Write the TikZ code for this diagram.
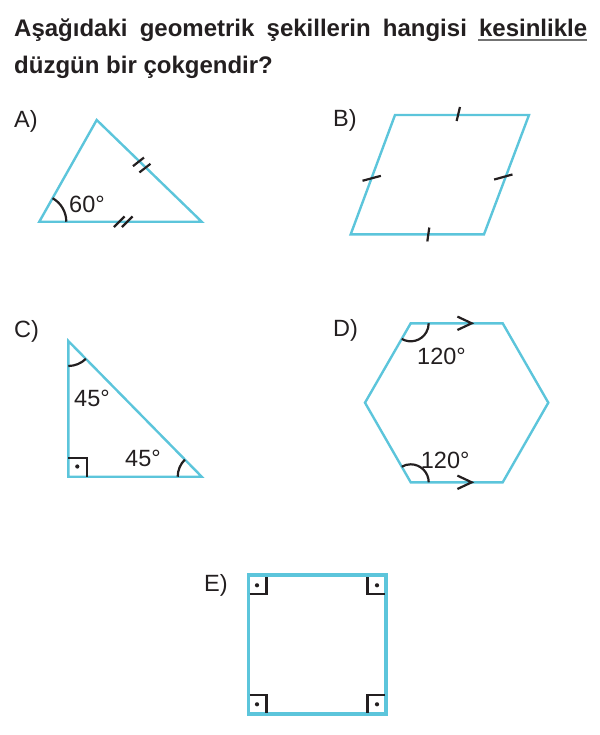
\documentclass[tikz,border=0pt]{standalone}
\usepackage{fontspec}
\setmainfont{Liberation Sans}
\usetikzlibrary{calc}
\definecolor{figc}{HTML}{5CC5DB}
\definecolor{ink}{HTML}{231F20}
\begin{document}
\begin{tikzpicture}[x=1pt,y=1pt,
  figline/.style={draw=figc,line width=2.4pt,line join=miter},
  blk/.style={draw=ink,line width=2.2pt},
  lbl/.style={anchor=base west,inner sep=0pt,text=ink,font=\fontsize{23.5}{27}\selectfont},
  qtext/.style={anchor=base west,inner sep=0pt,text=ink,font=\fontsize{24}{28}\selectfont\bfseries}]
\useasboundingbox (0,0) rectangle (599,-735);
% question
\node[qtext] (q1) at (14,-36.5) {\hbox to 573pt{Aşağıdaki\hfill geometrik\hfill şekillerin\hfill hangisi\hfill kesinlikle}};
\node[qtext] (q2) at (14,-73.5) {düzgün bir çokgendir?};
\draw[line width=1.6pt,color=gray!90!black] (478,-39.8) -- (587,-39.8);
% labels
\node[lbl] (la) at (14,-128) {A)};
\node[lbl] (lb) at (333,-127) {B)};
\node[lbl] (lc) at (14,-337) {C)};
\node[lbl] (ld) at (333,-336) {D)};
\node[lbl] (le) at (204,-591) {E)};
% A
\coordinate (A1) at (39.3,-221.7);
\coordinate (A2) at (96.7,-120);
\coordinate (A3) at (201.7,-221.7);
\draw[figline] (A1) -- (A2) -- (A3) -- cycle;
\draw[blk] ($(A1)+(0:27)$) arc (0:60.6:27);
\coordinate (TA) at (141.7,-165);
\draw[blk] ($(TA)+(-44.1:-4.5)+(38:-7)$) -- ++(38:14);
\draw[blk] ($(TA)+(-44.1:4.5)+(38:-7)$) -- ++(38:14);
\coordinate (TB) at (123.3,-221.7);
\draw[blk] ($(TB)+(0:-4)+(45:-7.5)$) -- ++(45:15);
\draw[blk] ($(TB)+(0:4)+(45:-7.5)$) -- ++(45:15);
\node[lbl] (a60) at (69,-213) {60°};
% B
\coordinate (B1) at (395,-115);
\coordinate (B2) at (529,-115);
\coordinate (B3) at (484,-234.3);
\coordinate (B4) at (350.7,-234.3);
\draw[figline] (B1) -- (B2) -- (B3) -- (B4) -- cycle;
\draw[blk] ($(458.3,-114)+(76.6:-7.2)$) -- ++(76.6:14.4);
\draw[blk] ($(428.3,-234.5)+(82:-7)$) -- ++(82:14);
\draw[blk] ($(371.7,-178.3)+(15:-9.5)$) -- ++(15:19);
\draw[blk] ($(503.3,-177)+(15.5:-9.5)$) -- ++(15.5:19);
% C
\coordinate (C1) at (68.3,-341);
\coordinate (C2) at (68.3,-476.7);
\coordinate (C3) at (201.7,-476.7);
\draw[figline] (C1) -- (C2) -- (C3) -- cycle;
\draw[blk] (68.3,-458) -- (86.7,-458) -- (86.7,-476.7);
\fill[ink] (77.3,-466.5) circle (2.1);
\draw[blk] ($(C1)+(-90:25)$) arc (-90:-45.5:25);
\draw[blk] ($(C3)+(134.5:24)$) arc (134.5:180:24);
\node[lbl] (c45a) at (74,-406.7) {45°};
\node[lbl] (c45b) at (125,-466.7) {45°};
% D
\coordinate (D1) at (410.7,-323.3);
\coordinate (D2) at (502.7,-323.3);
\coordinate (D3) at (548.3,-402.7);
\coordinate (D4) at (502.7,-482.3);
\coordinate (D5) at (410.7,-482.3);
\coordinate (D6) at (365,-402.7);
\draw[figline] (D1) -- (D2) -- (D3) -- (D4) -- (D5) -- (D6) -- cycle;
\coordinate (DT) at (471.7,-323.3);
\coordinate (DB) at (471.7,-482.3);
\draw[blk,line join=miter] ($(DT)+(-14.3,6.7)$) -- (DT) -- ($(DT)+(-14.3,-6.7)$);
\draw[blk,line join=miter] ($(DB)+(-14.3,6.7)$) -- (DB) -- ($(DB)+(-14.3,-6.7)$);
\draw[blk] ($(D1)+(-120:18)$) arc (-120:0:18);
\draw[blk] ($(D5)+(0:18)$) arc (0:120:18);
\node[lbl] (d120a) at (417,-364) {120°};
\node[lbl] (d120b) at (420.7,-468.3) {120°};
% E
\coordinate (E1) at (248.3,-575);
\coordinate (E3) at (386,-714);
\draw[figc,line width=3.6pt] (E1) rectangle (E3);
\draw[blk] (249.5,-594) -- (266.5,-594) -- (266.5,-576.5);
\draw[blk] (384.8,-594) -- (367.5,-594) -- (367.5,-576.5);
\draw[blk] (249.5,-695) -- (266.5,-695) -- (266.5,-712.5);
\draw[blk] (384.8,-695) -- (367.5,-695) -- (367.5,-712.5);
\fill[ink] (257,-585.3) circle (2.1);
\fill[ink] (377,-585.3) circle (2.1);
\fill[ink] (257,-704.3) circle (2.1);
\fill[ink] (377,-704.3) circle (2.1);
\end{tikzpicture}
\end{document}
